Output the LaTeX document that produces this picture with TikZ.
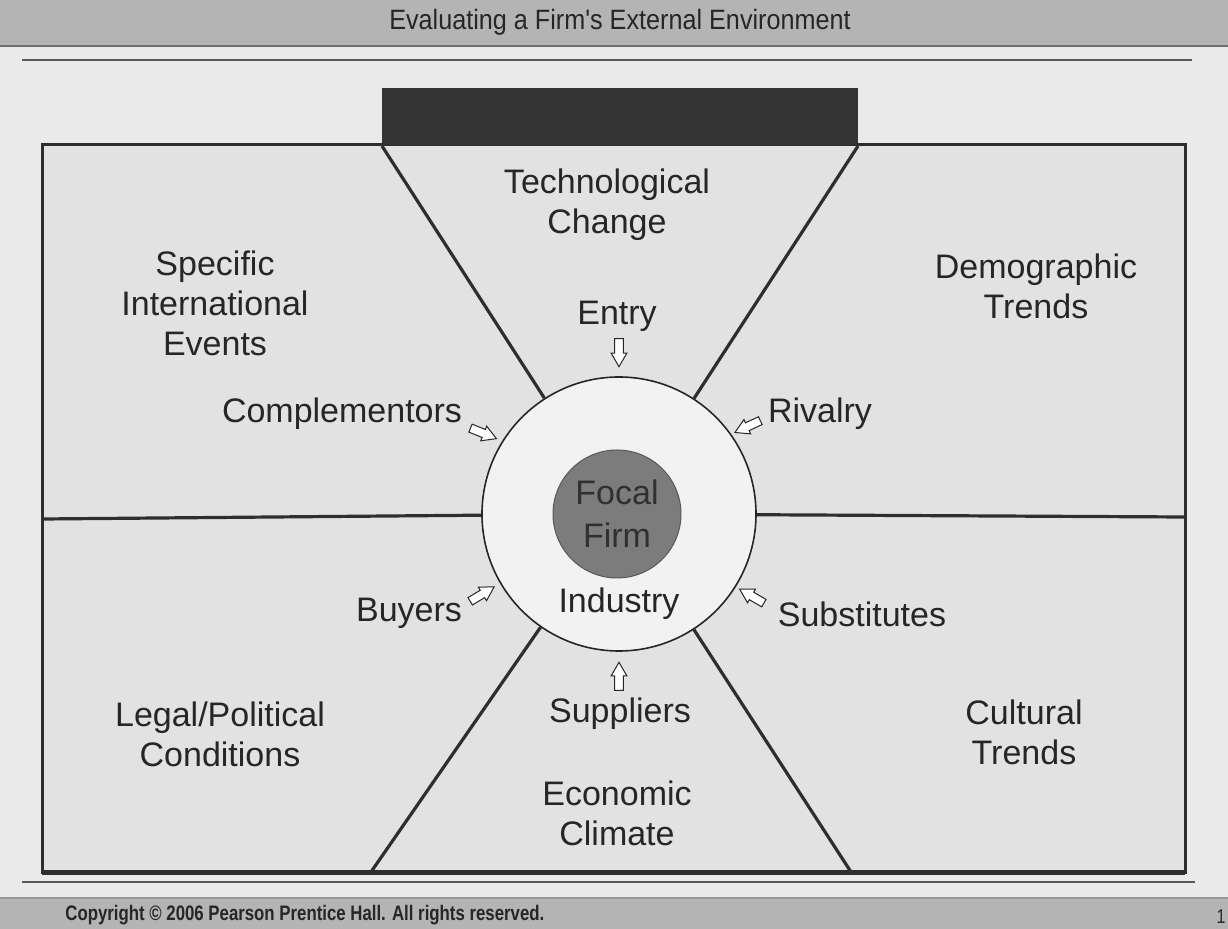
\documentclass[tikz,border=0pt]{standalone}
\usepackage{fontspec}
\setmainfont{Liberation Sans}
\newfontfamily\titlefont[FakeStretch=0.9]{Liberation Sans}
\newfontfamily\footfont[FakeStretch=0.8]{Liberation Sans}
\usetikzlibrary{shapes.arrows}
\definecolor{pagebg}{HTML}{EAEAEA}
\definecolor{panel}{HTML}{E2E2E2}
\definecolor{barbg}{HTML}{B4B4B4}
\definecolor{edge}{HTML}{2E2E2E}
\definecolor{txt}{HTML}{262626}
\definecolor{ringfill}{HTML}{F2F2F2}
\definecolor{corefill}{HTML}{7C7C7C}
\definecolor{coretxt}{HTML}{303030}
\definecolor{blockfill}{HTML}{333333}
\begin{document}
\begin{tikzpicture}[x=0.5pt,y=-0.5pt,
  lbl/.style={font=\fontsize{17}{20}\selectfont, text=txt, align=center, inner sep=0pt},
  hollow/.style={single arrow, draw=txt, fill=white, line width=0.5pt,
    minimum height=14pt, inner xsep=0pt, inner ysep=1.9pt, single arrow head extend=1.8pt,
    single arrow tip angle=60, font=\fontsize{1}{1}\selectfont},
  divider/.style={line width=1.6pt, draw=edge},
  rule/.style={line width=1.4pt, draw=edge!80}]
\useasboundingbox (0,0) rectangle (1228,929);
\fill[pagebg] (0,0) rectangle (1228,929);
% title bar
\fill[barbg] (0,0) rectangle (1228,46);
\draw[line width=0.8pt, draw=edge!70] (0,46) -- (1228,46);
\node (title) [font=\titlefont\fontsize{14}{16}\selectfont, text=txt] at (620,22) {Evaluating a Firm's External Environment};
\coordinate (r1a) at (22,60); \coordinate (r1b) at (1192,60);
\draw[rule] (r1a) -- (r1b);
% footer
\coordinate (r2a) at (22,882); \coordinate (r2b) at (1195,882);
\draw[rule] (r2a) -- (r2b);
\fill[barbg] (0,898) rectangle (1228,929);
\draw[line width=0.6pt, draw=edge!50] (0,898) -- (1228,898);
\node (copy) [font=\footfont\bfseries\fontsize{10.5}{12}\selectfont, text=txt, anchor=west, inner sep=0pt] at (65,915) {Copyright \textcopyright{} 2006 Pearson Prentice Hall. All rights reserved.};
\node (pg) [font=\footfont\fontsize{10}{12}\selectfont, text=txt, anchor=east, inner sep=0pt] at (1226,917) {1};
% main panel
\fill[panel] (42,145) rectangle (1185,873);
\draw[line width=1.5pt, draw=edge] (42,145) rectangle (1185,873);
\draw[line width=2.5pt, draw=edge] (42,873) -- (1185,873);
\fill[blockfill] (382,88) rectangle (858,145);
% corner points of dividers
\coordinate (ul) at (382,146);
\coordinate (ur) at (858,146);
\coordinate (ll) at (371,872);
\coordinate (lr) at (851,872);
\coordinate (ml) at (43,519);
\coordinate (mr) at (1184,517);
% circles
\node (outer) [circle, draw=txt, fill=ringfill, line width=0.8pt, minimum size=137pt, inner sep=0pt] at (619,514) {};
\draw[divider] (ul) -- (outer);
\draw[divider] (ur) -- (outer);
\draw[divider] (ll) -- (outer);
\draw[divider] (lr) -- (outer);
\draw[divider] (ml) -- (outer);
\draw[divider] (mr) -- (outer);
\node (focal) [circle, fill=corefill, draw=edge!80, line width=0.5pt, minimum size=64pt, inner sep=0pt,
  font=\fontsize{17}{21.5}\selectfont, text=coretxt, align=center] at (617,514) {Focal\\Firm};
% environment labels
\node (tech) [lbl] at (607,205) {Technological\\Change};
\node (intl) [lbl] at (215,303) {Specific\\International\\Events};
\node (demo) [lbl] at (1036,286) {Demographic\\Trends};
\node (legal) [lbl] at (220,734) {Legal/Political\\Conditions};
\node (cult) [lbl] at (1024,732) {Cultural\\Trends};
\node (econ) [lbl] at (617,813) {Economic\\Climate};
% industry forces
\node (entry) [lbl] at (617,316) {Entry};
\node (compl) [lbl] at (342,414) {Complementors};
\node (riv) [lbl] at (820,414) {Rivalry};
\node (ind) [lbl] at (619,604) {Industry};
\node (buy) [lbl] at (409,613) {Buyers};
\node (subs) [lbl] at (862,614) {Substitutes};
\node (supp) [lbl] at (620,714) {Suppliers};
% hollow arrows
\node (aentry) [hollow, rotate=-90] at (619,349) {};
\node (acompl) [hollow, rotate=-22] at (480,432) {};
\node (ariv) [hollow, rotate=205] at (751,425) {};
\node (abuy) [hollow, rotate=31] at (479,596) {};
\node (asubs) [hollow, rotate=150] at (755,598) {};
\node (asupp) [hollow, rotate=90] at (619,680) {};
\end{tikzpicture}
\end{document}
